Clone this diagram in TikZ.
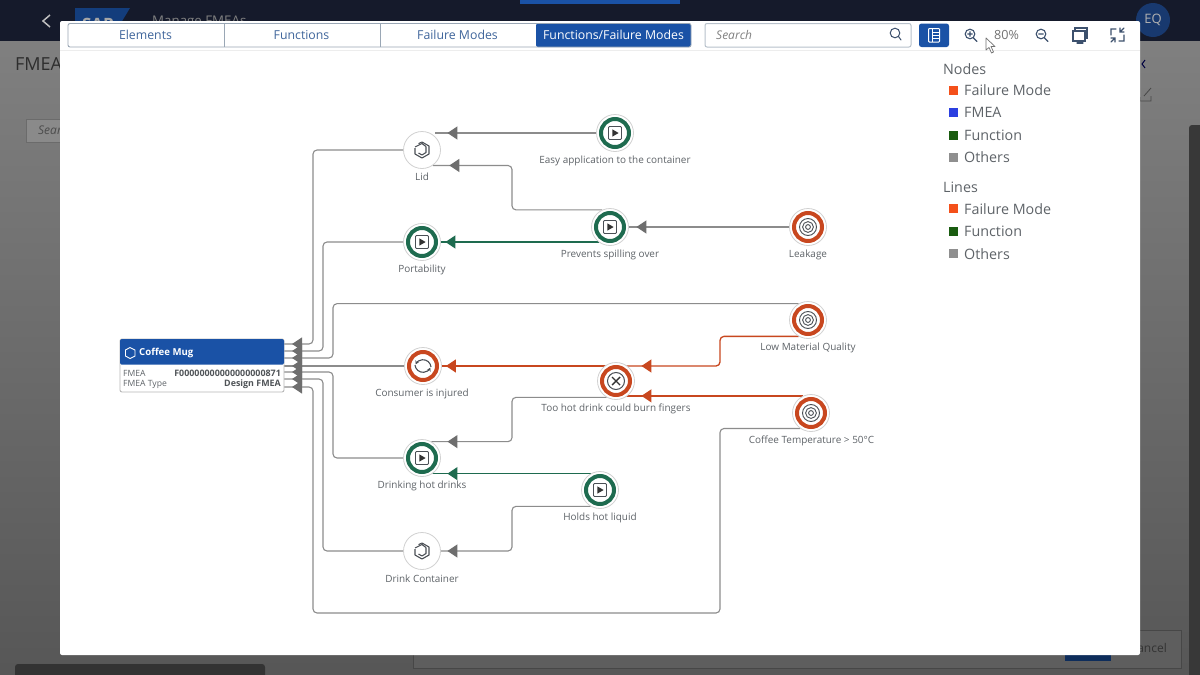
\documentclass[tikz,border=0pt]{standalone}
\usepackage{fontspec}
\setmainfont{Open Sans}
\usetikzlibrary{arrows.meta,decorations.markings,shapes.geometric}
\pgfdeclarelayer{bg}\pgfdeclarelayer{edge}\pgfsetlayers{bg,edge,main}
\definecolor{hdr}{HTML}{151A2B}
\definecolor{sapblue}{HTML}{1A52A6}
\definecolor{tabtxt}{HTML}{3F659B}
\definecolor{tabline}{HTML}{9AA7B5}
\definecolor{fgreen}{HTML}{1E6B4F}
\definecolor{forange}{HTML}{C8471F}
\definecolor{eline}{HTML}{8C8C8C}
\definecolor{ehead}{HTML}{6E6E6E}
\definecolor{txt}{HTML}{5E6368}
\definecolor{icn}{HTML}{4A4F55}
\definecolor{lgor}{HTML}{F4501A}
\definecolor{lgbl}{HTML}{2B3FE0}
\definecolor{lggr}{HTML}{1A5C10}
\definecolor{lggy}{HTML}{8F8F8F}
\tikzset{
 disc/.style={circle,minimum size=37pt,inner sep=0pt,draw=black!18,line width=.8pt,fill=white},
 fnnode/.style={disc,path picture={\draw[fgreen,line width=4pt] (path picture bounding box.center) circle (14pt);}},
 fmnode/.style={disc,path picture={\draw[forange,line width=4pt] (path picture bounding box.center) circle (14pt);}},
 lbl/.style={font=\fontsize{9.95}{12}\selectfont,text=txt,inner sep=0pt},
 lgh/.style={font=\fontsize{14.3}{17}\selectfont,text=txt,anchor=west,inner sep=0pt},
 lgt/.style={font=\fontsize{14.3}{17}\selectfont,text=txt,anchor=west,inner sep=0pt},
 tabnode/.style={font=\fontsize{12.3}{15}\selectfont,text=tabtxt,inner sep=0pt},
 swatch/.style={minimum size=9pt,inner sep=0pt},
 edgeg/.style={draw=eline,line width=1.1pt,rounded corners=4pt},
 edgeG/.style={draw=fgreen,line width=1.3pt,rounded corners=4pt},
 edgeO/.style={draw=forange,line width=1.3pt,rounded corners=4pt},
 mk/.style 2 args={postaction={decorate,decoration={markings,mark=at position -#1pt with {\arrow[#2]{Triangle[length=10pt,width=13pt]}}}}},
 tool/.style={draw=icn!70!sapblue,line width=1.1pt,line cap=round}
}
\newcommand{\playicn}[1]{\draw[icn,line width=.9pt,rounded corners=1pt] ([shift={(-6.5pt,-6.5pt)}]#1.center) rectangle ([shift={(6.5pt,6.5pt)}]#1.center);
 \fill[black!80] ([shift={(-2.6pt,-3.6pt)}]#1.center) -- ([shift={(3.6pt,0pt)}]#1.center) -- ([shift={(-2.6pt,3.6pt)}]#1.center) -- cycle;}
\newcommand{\targeticn}[1]{\foreach \r in {8.5,5.4,2.4}{\draw[icn,line width=.9pt] (#1.center) circle (\r pt);}}
\newcommand{\cubeicn}[1]{\begin{scope}[shift={(#1.center)}]
 \draw[icn,line width=1.1pt,line join=round] (-3.5,-6.3) -- (0,-8) -- (7,-4) -- (7,4) -- (0,8) -- (-7,4) -- (-7,-2);
 \draw[icn,line width=1.1pt,line join=round] (-7,-3) -- (0,-6.5) -- (4,-3.5) (4,-3.5) -- (4,2.5) -- (0,5) -- (-3.5,3);
 \end{scope}}
\begin{document}
\begin{tikzpicture}[x=1pt,y=-1pt,line cap=butt]
\useasboundingbox (0,0) rectangle (1200,675);
\begin{pgfonlayer}{bg}
 % page behind the dialog
 \fill[top color=black!50,bottom color=black!66] (0,41) rectangle (1200,675);
 \fill[hdr] (0,0) rectangle (1200,41);
 \fill[sapblue] (520,0) rectangle (680,4);
 \draw[black!25,line width=1.5pt] (50,15) -- (43,21) -- (50,27);
 \fill[sapblue!75!black] (75,8) -- (130,8) -- (110,41) -- (75,41) -- cycle;
 \node[font=\bfseries\fontsize{17}{19}\selectfont,text=black!35,inner sep=0pt] (sap) at (98,24) {SAP};
 \node[font=\fontsize{13.3}{15}\selectfont,text=black!50,anchor=west,inner sep=0pt] (mng) at (152,22) {Manage FMEAs};
 \fill[sapblue!55!hdr] (1153,20) circle (17);
 \node[font=\fontsize{13}{15}\selectfont,text=black!30,inner sep=0pt] (eq) at (1153,20) {EQ};
 \node[font=\fontsize{18}{20}\selectfont,text=black!82,anchor=west,inner sep=0pt] (fmeatitle) at (15,64) {FMEA};
 \draw[black!58,fill=black!46] (26,119) rectangle (70,142);
 \node[font=\itshape\fontsize{12}{14}\selectfont,text=black!70,anchor=west,inner sep=0pt] (sea) at (38,130) {Search};
 \draw[black!75!blue,line width=1pt] (1145,60) -- (1142,64) -- (1145,68);
 \draw[black!72,line width=.8pt] (1140,97) -- (1140,101) -- (1151,101) -- (1151,96) (1144,96) -- (1151,88);
 \draw[black!72,fill=black!63] (413,630) rectangle (1181,668);
 \fill[sapblue!55!black] (1065,650) rectangle (1111,661);
 \node[font=\fontsize{12}{14}\selectfont,text=black!80,anchor=east,inner sep=0pt] (cancel) at (1167,648) {Cancel};
 \fill[black!78,rounded corners=3pt] (1189,125) rectangle (1210,690);
 \fill[black!80,rounded corners=3pt] (15,664) rectangle (265,690);
 % dialog
 \fill[white,rounded corners=2pt] (60,21) rectangle (1140,655);
 \draw[black!7,line width=.7pt] (60,50) -- (1140,50);
 % tab bar
 \fill[sapblue,rounded corners=2pt] (536,23.5) rectangle (691,47);
 \draw[tabline,line width=.9pt,rounded corners=2pt] (68,23.5) rectangle (691,47);
 \foreach \x in {224,380}{\draw[tabline,line width=.9pt] (\x,23.5) -- (\x,47);}
 \draw[tabline!70,line width=1pt,rounded corners=2pt] (705,23.5) rectangle (911,47);
 \fill[sapblue,rounded corners=2.5pt] (919,23.5) rectangle (949,47);
\end{pgfonlayer}
\node[tabnode] (t1) at (145.5,35) {Elements};
\node[tabnode] (t2) at (301.5,35) {Functions};
\node[tabnode] (t3) at (457.5,35) {Failure Modes};
\node[tabnode,text=white] (t4) at (613.5,35) {Functions/Failure Modes};
\node[font=\itshape\fontsize{12}{15}\selectfont,text=black!50,anchor=west,inner sep=0pt] (srch) at (716,35) {Search};
% toolbar icons
\draw[tool,line width=1pt] (895,33) circle (4.8) (898.5,36.5) -- (901,40);
\draw[white,line width=1pt,rounded corners=.8pt] (928.5,28.5) rectangle (939.5,42);
\foreach \y in {32,35.2,38.4}{\draw[white,line width=.8pt] (932,\y) -- (939.5,\y);}
\draw[white,line width=.8pt] (932,28.5) -- (932,42);
\draw[tool] (970,34) circle (4.8) (973.5,38) -- (977,41.5) (967.6,34) -- (972.4,34) (970,31.6) -- (970,36.4);
\draw[tool] (1041,34) circle (4.8) (1044.5,38) -- (1048,41.5) (1038.6,34) -- (1043.4,34);
\node[font=\fontsize{12.6}{15}\selectfont,text=black!55,inner sep=0pt] (zoompct) at (1006.5,35) {80\%};
\draw[tool] (1075,30) -- (1075,28) -- (1087,28) -- (1087,38) -- (1085,38) (1073,31) rectangle (1085,41) (1077,43) -- (1083,43);
\draw[tool] (1111,35) -- (1111,29) -- (1116,29) (1124,35) -- (1124,41) -- (1119,41) (1111,38) -- (1115,38) -- (1115,42) (1124,32) -- (1120,32) -- (1120,28) (1120,32) -- (1124,28) (1115,38) -- (1111,42);
\draw[black!55,fill=white,line width=.7pt,line join=round] (986,38) -- (986,50) -- (989,47.5) -- (991.5,53) -- (993.5,52) -- (991,46.5) -- (995,46.5) -- cycle;
% legend
\node[lgh] (lgn) at (943,69) {Nodes};
\node[swatch,fill=lgor] (s1) at (953.5,90) {}; \node[lgt] (l1) at (964,90) {Failure Mode};
\node[swatch,fill=lgbl] (s2) at (953.5,112.5) {}; \node[lgt] (l2) at (964,112.5) {FMEA};
\node[swatch,fill=lggr] (s3) at (953.5,135) {}; \node[lgt] (l3) at (964,135) {Function};
\node[swatch,fill=lggy] (s4) at (953.5,157) {}; \node[lgt] (l4) at (964,157.5) {Others};
\node[lgh] (lgl) at (943,187.5) {Lines};
\node[swatch,fill=lgor] (s5) at (953.5,208.5) {}; \node[lgt] (l5) at (964,209) {Failure Mode};
\node[swatch,fill=lggr] (s6) at (953.5,231) {}; \node[lgt] (l6) at (964,231.5) {Function};
\node[swatch,fill=lggy] (s7) at (953.5,253.5) {}; \node[lgt] (l7) at (964,254) {Others};
% graph nodes
\node[disc] (lid) at (422,150) {}; \cubeicn{lid}
\node[lbl] (lidl) at (422,176.5) {Lid};
\node[fnnode] (easy) at (615,133) {}; \playicn{easy}
\node[lbl] (easyl) at (615,161) {Easy application to the container};
\node[fnnode] (prev) at (610,227) {}; \playicn{prev}
\node[lbl] (prevl) at (610,254.5) {Prevents spilling over};
\node[fnnode] (port) at (422,242) {}; \playicn{port}
\node[lbl] (portl) at (422,270) {Portability};
\node[fmnode] (leak) at (808,227) {}; \targeticn{leak}
\node[lbl] (leakl) at (808,254.5) {Leakage};
\node[fmnode] (lowq) at (808,320) {}; \targeticn{lowq}
\node[lbl] (lowql) at (808,347.5) {Low Material Quality};
\node[fmnode] (cons) at (423,366) {};
\draw[icn,line width=1.1pt,-{Stealth[length=3.5pt,width=4pt]}] (cons.center) ++(-8,-1) arc[start angle=175,end angle=25,radius=8];
\draw[icn,line width=1.1pt,-{Stealth[length=3.5pt,width=4pt]}] (cons.center) ++(8,1) arc[start angle=355,end angle=205,radius=8];
\node[lbl] (consl) at (422,393.5) {Consumer is injured};
\node[fmnode] (hot) at (616,381) {};
\draw[icn,line width=1pt] (hot.center) circle (8.5);
\draw[black!80,line width=1.4pt] ([shift={(-4,-4)}]hot.center) -- ([shift={(4,4)}]hot.center) ([shift={(-4,4)}]hot.center) -- ([shift={(4,-4)}]hot.center);
\node[lbl] (hotl) at (616,408.5) {Too hot drink could burn fingers};
\node[fmnode] (coffee) at (811,413) {}; \targeticn{coffee}
\node[lbl] (coffeel) at (811.5,440.5) {Coffee Temperature > 50°C};
\node[fnnode] (drink) at (422,458) {}; \playicn{drink}
\node[lbl] (drinkl) at (422,485.5) {Drinking hot drinks};
\node[fnnode] (holds) at (600,490) {}; \playicn{holds}
\node[lbl] (holdsl) at (600,517.5) {Holds hot liquid};
\node[disc] (cont) at (422,551) {}; \cubeicn{cont}
\node[lbl] (contl) at (422,578.5) {Drink Container};
% FMEA card
\node[draw=black!28,line width=.9pt,fill=white,rounded corners=2pt,minimum width=164pt,minimum height=53pt,inner sep=0pt] (mug) at (202,365.5) {};
\fill[sapblue,rounded corners=1.5pt] (120,339) rectangle (284,364.5);
\draw[white,line width=.9pt] (130,347.5) -- (135,350) -- (135,356) -- (130,358.5) -- (125.5,356) -- (125.5,350) -- cycle;
\node[font=\bfseries\fontsize{9.6}{12}\selectfont,text=white,anchor=west,inner sep=0pt] (mugt) at (139,352.5) {Coffee Mug};
\node[font=\fontsize{8.6}{10}\selectfont,text=txt,anchor=west,inner sep=0pt] (mf1) at (123,373.5) {FMEA};
\node[font=\fontsize{8.6}{10}\selectfont,text=txt,anchor=west,inner sep=0pt] (mf2) at (123,384) {FMEA Type};
\node[font=\bfseries\fontsize{8.9}{10}\selectfont,text=txt!85!black,anchor=east,inner sep=0pt] (mv1) at (281,373.5) {F00000000000000000871};
\node[font=\bfseries\fontsize{8.9}{10}\selectfont,text=txt!85!black,anchor=east,inner sep=0pt] (mv2) at (281,384) {Design FMEA};
\coordinate (m1) at (284,344);
\coordinate (m2) at (284,351);
\coordinate (m3) at (284,358);
\coordinate (m4) at (284,366);
\coordinate (m5) at (284,372);
\coordinate (m6) at (284,379);
\coordinate (m7) at (284,387);
\begin{pgfonlayer}{edge}
\path[edgeg,mk={8}{ehead}] (lid.west) -| (313,250) |- (m1);
\path[edgeg,mk={8}{ehead}] (port.west) -| (323,300) |- (m2);
\path[edgeg,mk={8}{ehead}] (lowq.120) -| (333,330) |- (m3);
\path[edgeg,mk={8}{ehead}] (cons.west) -- (m4);
\path[edgeg,mk={8}{ehead}] (drink.west) -| (333,420) |- (m5);
\path[edgeg,mk={8}{ehead}] (cont.west) -| (323,470) |- (m6);
\path[edgeg,mk={8}{ehead}] (coffee.-125) -| (720,520) |- (500,613) -| (313,500) |- (m7);
\path[edgeg,mk={12}{ehead}] (easy.west) -- (lid.north east |- easy.west);
\path[edgeg,mk={16.5}{ehead}] (prev.115) -| (512,188) |- (lid.-55);
\path[edgeG,mk={4.5}{fgreen}] (prev.-125 |- port.east) -- (port.east);
\path[edgeg,mk={7.5}{ehead}] (leak.west) -- (prev.east);
\path[edgeO,mk={16}{forange}] (lowq.-120) -| (720,350) |- (hot.60 |- cons.east);
\path[edgeO,mk={4}{forange}] (hot.120 |- cons.east) -- (cons.east);
\path[edgeO,mk={16}{forange}] (coffee.115) -- (hot.-60 |- coffee.115);
\path[edgeg,mk={16}{ehead}] (hot.-120) -| (512,420) |- (drink.60);
\path[edgeG,mk={16}{fgreen}] (holds.120) -- (drink.-60 |- holds.120);
\path[edgeg,mk={6.5}{ehead}] (holds.-120) -| (512,530) |- (cont.east);
\end{pgfonlayer}
\end{tikzpicture}
\end{document}
